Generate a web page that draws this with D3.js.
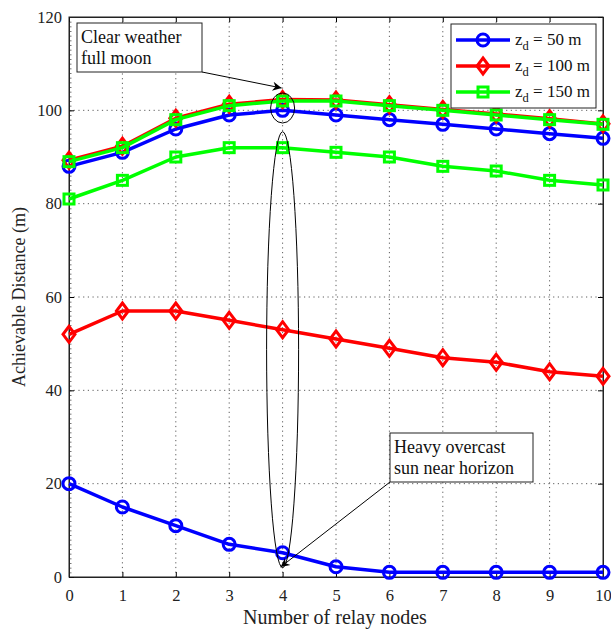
<!DOCTYPE html>
<html>
<head>
<meta charset="utf-8">
<script src="https://cdn.jsdelivr.net/npm/d3@7"></script>
<style>
  body { margin: 0; background: #fff; }
  svg { font-family: "Liberation Serif", "Times New Roman", serif; }
</style>
</head>
<body>
<div id="chart"></div>
<script>
// relay node counts on the x axis
const relayNodes = [0, 1, 2, 3, 4, 5, 6, 7, 8, 9, 10];

// clear weather, full moon
const clear50 = [88, 91, 96, 99, 100, 99, 98, 97, 96, 95, 94];
const clear100 = [89.3, 92.3, 98.3, 101.3, 102.3, 102.2, 101.2, 100.2, 99.2, 98.2, 97.1];
const clear150 = [89, 92, 98, 101, 102, 102, 101, 100, 99, 98, 97];

// heavy overcast, sun near horizon
const overcast50 = [20, 15, 11, 7, 5.2, 2.2, 1, 1, 1, 1, 1];
const overcast100 = [52, 57, 57, 55, 53, 51, 49, 47, 46, 44, 43];
const overcast150 = [81, 85, 90, 92, 92, 91, 90, 88, 87, 85, 84];

const yTicks = [0, 20, 40, 60, 80, 100, 120];
const legendLabels = ["50 m", "100 m", "150 m"];

const series = [
    { values: clear50, color: "#0000ff", marker: "circle" },
    { values: overcast50, color: "#0000ff", marker: "circle" },
    { values: clear100, color: "#ff0000", marker: "diamond" },
    { values: overcast100, color: "#ff0000", marker: "diamond" },
    { values: clear150, color: "#00ff00", marker: "square" },
    { values: overcast150, color: "#00ff00", marker: "square" }
];

const width = 611, height = 629;
const margin = { top: 17, right: 8, bottom: 52, left: 69 };
const innerW = width - margin.left - margin.right;
const innerH = height - margin.top - margin.bottom;

const svg = d3.select("#chart").append("svg")
    .attr("width", width)
    .attr("height", height);

const g = svg.append("g")
    .attr("transform", `translate(${margin.left},${margin.top})`);

const x = d3.scaleLinear().domain([0, 10]).range([0, innerW]);
const y = d3.scaleLinear().domain([0, 120]).range([innerH, 0]);

// dotted grid
g.append("g").selectAll("line")
    .data(relayNodes.slice(1, -1))
    .enter().append("line")
    .attr("x1", d => x(d)).attr("x2", d => x(d))
    .attr("y1", 0).attr("y2", innerH)
    .attr("stroke", "#333").attr("stroke-width", 0.8)
    .attr("stroke-dasharray", "1.2,3.5");

g.append("g").selectAll("line")
    .data(yTicks.slice(1, -1))
    .enter().append("line")
    .attr("x1", 0).attr("x2", innerW)
    .attr("y1", d => y(d)).attr("y2", d => y(d))
    .attr("stroke", "#333").attr("stroke-width", 0.8)
    .attr("stroke-dasharray", "1.2,3.5");

// minor ticks on the left spine
g.append("g")
    .call(d3.axisLeft(y).ticks(120).tickSize(-2.5).tickFormat(""))
    .call(a => a.select(".domain").remove())
    .selectAll("line").attr("stroke", "#777");

// axes (inward ticks, box style)
g.append("g")
    .attr("transform", `translate(0,${innerH})`)
    .call(d3.axisBottom(x).tickValues(relayNodes).tickSize(-5).tickPadding(12));
g.append("g")
    .call(d3.axisLeft(y).tickValues(yTicks).tickSize(-5).tickPadding(7));
g.append("g")
    .call(d3.axisTop(x).tickValues(relayNodes).tickSize(-5).tickFormat(""));
g.append("g")
    .attr("transform", `translate(${innerW},0)`)
    .call(d3.axisRight(y).tickValues(yTicks).tickSize(-5).tickFormat(""));

g.selectAll(".domain").attr("stroke", "#222");
g.selectAll(".tick text")
    .attr("fill", "#222")
    .style("font-family", "Liberation Serif")
    .style("font-size", "16.5px");

g.append("rect")
    .attr("width", innerW).attr("height", innerH)
    .attr("fill", "none").attr("stroke", "#222").attr("stroke-width", 1);

// axis labels
svg.append("text")
    .attr("x", margin.left + innerW / 2 - 1)
    .attr("y", 624)
    .attr("text-anchor", "middle")
    .attr("fill", "#222")
    .style("font-size", "20px")
    .text("Number of relay nodes");

svg.append("text")
    .attr("transform", `translate(25,${margin.top + innerH / 2}) rotate(-90)`)
    .attr("text-anchor", "middle")
    .attr("fill", "#222")
    .style("font-size", "18px")
    .text("Achievable Distance (m)");

// markers
function drawMarker(sel, type, color) {
    if (type === "circle") {
        sel.append("circle").attr("r", 6)
            .attr("fill", "none").attr("stroke", color).attr("stroke-width", 3);
    } else if (type === "diamond") {
        sel.append("path").attr("d", "M0,-8L6,0L0,8L-6,0Z")
            .attr("fill", "none").attr("stroke", color).attr("stroke-width", 3);
    } else {
        sel.append("rect").attr("x", -5).attr("y", -5).attr("width", 10).attr("height", 10)
            .attr("fill", "none").attr("stroke", color).attr("stroke-width", 3);
    }
}

const line = d3.line().x((d, i) => x(relayNodes[i])).y(d => y(d));

series.forEach(s => {
    g.append("path")
        .datum(s.values)
        .attr("d", line)
        .attr("fill", "none")
        .attr("stroke", s.color)
        .attr("stroke-width", 3.5)
        .attr("stroke-linejoin", "round");
    g.append("g").selectAll("g")
        .data(s.values)
        .enter().append("g")
        .attr("transform", (d, i) => `translate(${x(relayNodes[i])},${y(d)})`)
        .each(function () { drawMarker(d3.select(this), s.marker, s.color); });
});

// annotations
const defs = svg.append("defs");
defs.append("marker")
    .attr("id", "arrow")
    .attr("viewBox", "0 0 10 10")
    .attr("refX", 10).attr("refY", 5)
    .attr("markerWidth", 14).attr("markerHeight", 9)
    .attr("markerUnits", "userSpaceOnUse")
    .attr("orient", "auto")
    .append("path").attr("d", "M0,0L10,5L0,10L3,5Z").attr("fill", "#000");

// small ellipse around clear weather at x=4
g.append("ellipse")
    .attr("cx", x(4)).attr("cy", y(100.5))
    .attr("rx", 12).attr("ry", 15)
    .attr("fill", "none").attr("stroke", "#000").attr("stroke-width", 1);

// tall ellipse
g.append("ellipse")
    .attr("cx", x(4)).attr("cy", y(48.7))
    .attr("rx", 16).attr("ry", 218)
    .attr("fill", "none").attr("stroke", "#000").attr("stroke-width", 1);

function textBox(x0, y0, w, h, lines) {
    svg.append("rect")
        .attr("x", x0).attr("y", y0).attr("width", w).attr("height", h)
        .attr("fill", "#fff").attr("stroke", "#222").attr("stroke-width", 1);
    lines.forEach((t, i) => {
        svg.append("text")
            .attr("x", x0 + 4).attr("y", y0 + 20 + i * 21)
            .attr("fill", "#111")
            .style("font-size", "18px")
            .text(t);
    });
}

svg.append("line")
    .attr("x1", 202).attr("y1", 72)
    .attr("x2", margin.left + x(4) - 1).attr("y2", 88)
    .attr("stroke", "#000").attr("stroke-width", 1)
    .attr("marker-end", "url(#arrow)");
textBox(77, 23, 125, 49, ["Clear weather", "full moon"]);

svg.append("line")
    .attr("x1", 390).attr("y1", 482)
    .attr("x2", margin.left + x(4) - 2).attr("y2", 567)
    .attr("stroke", "#000").attr("stroke-width", 1)
    .attr("marker-end", "url(#arrow)");
textBox(390, 433, 143, 49, ["Heavy overcast", "sun near horizon"]);

// legend
const legend = svg.append("g").attr("transform", "translate(451,24)");
legend.append("rect")
    .attr("width", 145).attr("height", 84)
    .attr("fill", "#fff").attr("stroke", "#222").attr("stroke-width", 1);

const legendItems = [series[0], series[2], series[4]];
legendItems.forEach((s, i) => {
    const row = legend.append("g").attr("transform", `translate(0,${16 + i * 26})`);
    row.append("line")
        .attr("x1", 5).attr("x2", 59)
        .attr("stroke", s.color).attr("stroke-width", 3.5);
    const m = row.append("g").attr("transform", "translate(32,0)");
    drawMarker(m, s.marker, s.color);
    const txt = row.append("text")
        .attr("x", 64).attr("y", 5)
        .attr("fill", "#111")
        .style("font-size", "17px");
    txt.append("tspan").text("z");
    txt.append("tspan").attr("dy", 5).style("font-size", "12.5px").text("d");
    txt.append("tspan").attr("dy", -5).text(" = " + legendLabels[i]);
});
</script>
</body>
</html>
